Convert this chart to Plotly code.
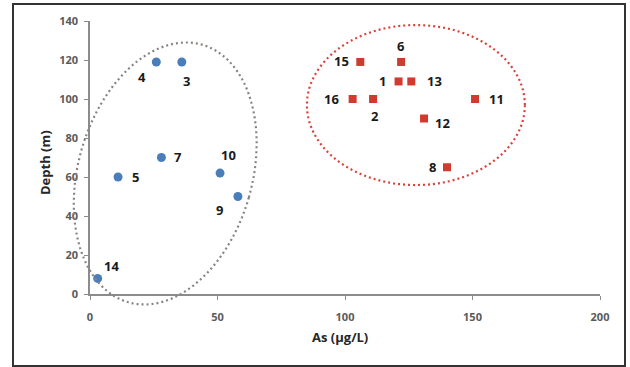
import numpy as np
import plotly.graph_objects as go

# Well samples: arsenic concentration (µg/L) versus depth (m)
low_ids = ["14", "5", "7", "4", "3", "10", "9"]
low_as = [3, 11, 28, 26, 36, 51, 58]
low_depth = [8, 60, 70, 119, 119, 62, 50]

high_ids = ["15", "6", "1", "13", "16", "2", "11", "12", "8"]
high_as = [106, 122, 121, 126, 103, 111, 151, 131, 140]
high_depth = [119, 119, 109, 109, 100, 100, 100, 90, 65]

x_ticks = [0, 50, 100, 150, 200]
y_ticks = [0, 20, 40, 60, 80, 100, 120, 140]

X_RANGE = (0, 200)
Y_RANGE = (0, 140)
W, H = 630, 367
M = dict(l=90, r=30, t=21, b=73)
PLOT_W = W - M["l"] - M["r"]
PLOT_H = H - M["t"] - M["b"]
SX = PLOT_W / (X_RANGE[1] - X_RANGE[0])   # px per µg/L
SY = PLOT_H / (Y_RANGE[1] - Y_RANGE[0])   # px per m

# label offsets in px (right, up) for each sample number
low_off = {"14": (14, 12), "5": (17, 0), "7": (17, 1), "4": (-14, -15),
           "3": (5, -19), "10": (8, 18), "9": (-18, -13)}
high_off = {"15": (-19, 1), "6": (0, 16), "1": (-16, 0), "13": (23, 0),
            "16": (-21, 0), "2": (2, -17), "11": (21, 0), "12": (18, -4),
            "8": (-15, 0)}


def ellipse_path(cx, cy, a_px, b_px, tilt_deg, n=120):
    """Closed path (paper coords) for an ellipse centred at data (cx, cy),
    semi-major a_px along a direction tilted tilt_deg from vertical."""
    phi = np.radians(tilt_deg)
    u = np.array([np.sin(phi), np.cos(phi)])
    v = np.array([np.cos(phi), -np.sin(phi)])
    t = np.linspace(0, 2 * np.pi, n, endpoint=False)
    dx = a_px * np.sin(t) * u[0] + b_px * np.cos(t) * v[0]
    dy = a_px * np.sin(t) * u[1] + b_px * np.cos(t) * v[1]
    xs = (cx + dx / SX - X_RANGE[0]) / (X_RANGE[1] - X_RANGE[0])
    ys = (cy + dy / SY - Y_RANGE[0]) / (Y_RANGE[1] - Y_RANGE[0])
    pts = [f"{x:.4f},{y:.4f}" for x, y in zip(xs, ys)]
    return "M " + " L ".join(pts) + " Z"


def bold(v):
    return f"<b>{v}</b>"


fig = go.Figure()

fig.add_trace(go.Scatter(
    x=low_as, y=low_depth, mode="markers",
    marker=dict(symbol="circle", size=9, color="#4a7ebb"),
    cliponaxis=False, showlegend=False,
))
fig.add_trace(go.Scatter(
    x=high_as, y=high_depth, mode="markers",
    marker=dict(symbol="square", size=8, color="#d23a30"),
    cliponaxis=False, showlegend=False,
))

FONT = "Open Sans, Liberation Sans, sans-serif"
label_font = dict(family=FONT, size=13, color="#1a1a1a")
for ids, xs, ys, off in ((low_ids, low_as, low_depth, low_off),
                         (high_ids, high_as, high_depth, high_off)):
    for i, x, y in zip(ids, xs, ys):
        ox, oy = off[i]
        fig.add_annotation(x=x, y=y, text=bold(i), showarrow=False,
                           xshift=ox, yshift=oy, font=label_font)

# dotted group outlines
fig.add_shape(type="path", xref="paper", yref="paper",
              path=ellipse_path(29.5, 61.8, 134, 87, 16),
              line=dict(color="#8a8480", width=2.2, dash="2px,3px"))
fig.add_shape(type="path", xref="paper", yref="paper",
              path=ellipse_path(127.8, 96.9, 80, 109, 0),
              line=dict(color="#d9433a", width=2.2, dash="2px,3px"))

# outer frame
fig.add_shape(type="rect", xref="paper", yref="paper",
              x0=(13 - M["l"]) / PLOT_W, x1=(625 - M["l"]) / PLOT_W,
              y0=(H - M["b"] - 366) / PLOT_H, y1=(H - M["b"] - 4) / PLOT_H,
              line=dict(color="#333333", width=2))

tick_font = dict(family=FONT, size=11, color="#5a5a5a")
title_font = dict(family=FONT, size=13, color="#262626")

fig.update_xaxes(range=list(X_RANGE), tickvals=x_ticks,
                 ticktext=[bold(v) for v in x_ticks], ticks="outside",
                 ticklen=4, tickcolor="#8c8c8c", showline=True,
                 linecolor="#8c8c8c", linewidth=1.5, showgrid=False,
                 zeroline=False, tickfont=tick_font, ticklabelstandoff=8)
fig.update_yaxes(range=list(Y_RANGE), tickvals=y_ticks,
                 ticktext=[bold(v) for v in y_ticks], ticks="outside",
                 ticklen=4, tickcolor="#8c8c8c", showline=True,
                 linecolor="#8c8c8c", linewidth=1.5, showgrid=False,
                 zeroline=False, tickfont=tick_font, ticklabelstandoff=4)

fig.add_annotation(xref="paper", yref="paper", x=(340 - M["l"]) / PLOT_W,
                   y=(H - M["b"] - 348) / PLOT_H, text=bold("As (µg/L)"),
                   showarrow=False, font=title_font)
fig.add_annotation(xref="paper", yref="paper", x=(34 - M["l"]) / PLOT_W,
                   y=(H - M["b"] - 163) / PLOT_H, text=bold("Depth (m)"),
                   textangle=-90, showarrow=False, font=title_font)

fig.update_layout(width=W, height=H, margin=M, paper_bgcolor="white",
                  plot_bgcolor="white")

fig.write_html("out.html")
